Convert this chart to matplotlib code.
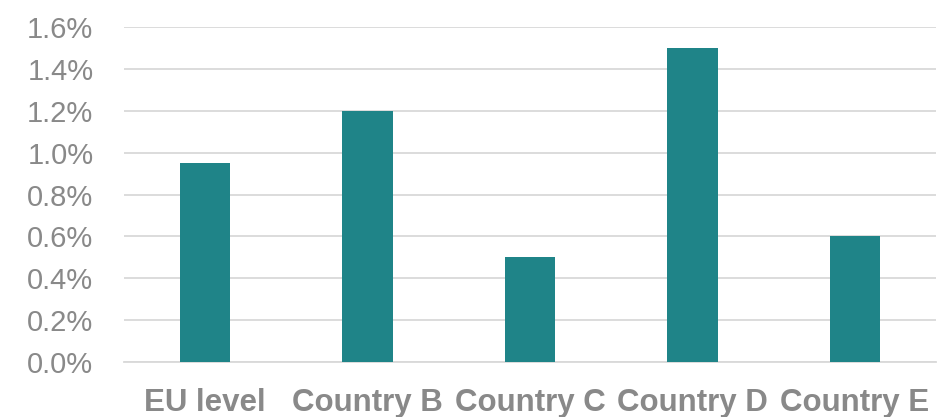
import matplotlib
matplotlib.use("Agg")
import matplotlib.pyplot as plt
from matplotlib.ticker import FuncFormatter, MultipleLocator

categories = ["EU level", "Country B", "Country C", "Country D", "Country E"]
values = [0.0095, 0.012, 0.005, 0.015, 0.006]

plt.rcParams['font.family'] = ['Liberation Sans', 'DejaVu Sans']

fig = plt.figure(figsize=(9.53, 4.17), dpi=100)
W, H = 953, 417
ax = fig.add_axes([124 / W, 55 / H, (936 - 124) / W, (362 - 27) / H])

bar_color = "#1F8488"
text_color = "#898989"
grid_color = "#D9D9D9"

x = range(len(categories))
ax.bar(x, values, width=0.31, color=bar_color, zorder=3)

ax.set_xlim(-0.5, len(categories) - 0.5)
ax.set_ylim(0, 0.016)
ax.yaxis.set_major_locator(MultipleLocator(0.002))
ax.yaxis.set_major_formatter(FuncFormatter(lambda v, p: f"{v*100:.1f}%"))
ax.grid(axis='y', color=grid_color, linewidth=1.3, zorder=0)

for s in ['top', 'right', 'left']:
    ax.spines[s].set_visible(False)
ax.spines['bottom'].set_color(grid_color)
ax.spines['bottom'].set_linewidth(1.3)

ax.set_xticks(list(x))
ax.set_xticklabels(categories, fontsize=22.5, fontweight='bold', color=text_color)
ax.tick_params(axis='x', length=0, pad=19)
ax.tick_params(axis='y', length=0, pad=22, labelsize=21, labelcolor=text_color)

fig.savefig("out.png", dpi=100)
